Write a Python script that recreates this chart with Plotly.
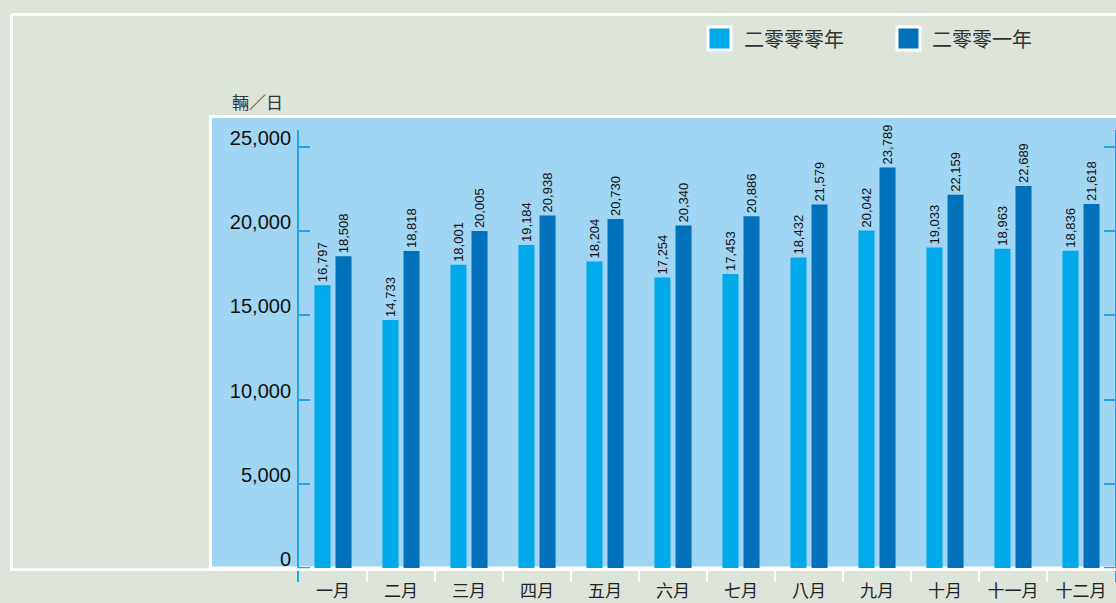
import plotly.graph_objects as go

months = ["一月", "二月", "三月", "四月", "五月", "六月", "七月", "八月", "九月", "十月", "十一月", "十二月"]
series_names = ["二零零零年", "二零零一年"]
values_2000 = [16797, 14733, 18001, 19184, 18204, 17254, 17453, 18432, 20042, 19033, 18963, 18836]
values_2001 = [18508, 18818, 20005, 20938, 20730, 20340, 20886, 21579, 23789, 22159, 22689, 21618]
y_ticks = [0, 5000, 10000, 15000, 20000, 25000]
y_tick_labels = ["0", "5,000", "10,000", "15,000", "20,000", "25,000"]
unit_label = "輛／日"

W, H = 1116, 603
L, R, T, B = 299, 1, 130, 21
PW, PH = W - L - R, H - T - B

def px(x):
    return (x - L) / PW

def py(y):
    return (H - B - y) / PH

LIGHT = "#00a9e9"
DARK = "#0071ba"
BG = "#dde5da"
PLOTBLUE = "#a0d5f3"
AXIS = "#22a6e6"
CJK = "Noto Sans CJK TC"
LAT = "Liberation Sans"

fig = go.Figure()
for name, vals, col in [(series_names[0], values_2000, LIGHT), (series_names[1], values_2001, DARK)]:
    fig.add_trace(go.Bar(
        x=months, y=vals, name=name, marker=dict(color=col, line=dict(width=0)),
        text=[f"{v:,}" for v in vals], textposition="outside", textangle=-90,
        constraintext="none", cliponaxis=False,
        textfont=dict(family=LAT, size=13, color="#111"), showlegend=False,
    ))

shapes = [
    dict(type="rect", xref="paper", yref="paper", x0=px(210.5), x1=px(1125), y0=py(568), y1=py(116.5),
         fillcolor=PLOTBLUE, line=dict(color="white", width=3), layer="below"),
    dict(type="line", xref="paper", yref="paper", x0=px(11.5), x1=px(1120), y0=py(14.5), y1=py(14.5),
         line=dict(color="white", width=3), layer="below"),
    dict(type="line", xref="paper", yref="paper", x0=px(11.5), x1=px(11.5), y0=py(14.5), y1=py(570),
         line=dict(color="white", width=3), layer="below"),
    dict(type="line", xref="paper", yref="paper", x0=px(10), x1=px(1120), y0=py(569.6), y1=py(569.6),
         line=dict(color="white", width=2.6), layer="above"),
]

annotations = [
    dict(xref="paper", yref="paper", x=px(230), y=py(101), text=unit_label, showarrow=False,
         xanchor="left", yanchor="middle", font=dict(family=CJK, size=17, color="#333")),
]
legend_pos = [(708, 742), (897, 930)]
for (sx, tx), name, col in zip(legend_pos, series_names, [LIGHT, DARK]):
    shapes.append(dict(type="rect", xref="paper", yref="paper", x0=px(sx), x1=px(sx + 23),
                       y0=py(50), y1=py(27), fillcolor=col, line=dict(color="white", width=3)))
    annotations.append(dict(xref="paper", yref="paper", x=px(tx), y=py(38.5), text=name, showarrow=False,
                            xanchor="left", yanchor="middle", font=dict(family=CJK, size=20, color="#333")))

fig.update_layout(
    width=W, height=H, autosize=False,
    margin=dict(l=L, r=R, t=T, b=B, pad=0),
    paper_bgcolor=BG, plot_bgcolor="rgba(0,0,0,0)",
    barmode="group", bargap=0.38, bargroupgap=0.24,
    shapes=shapes, annotations=annotations,
    xaxis=dict(type="category", showgrid=False, zeroline=False, showline=False, automargin=False,
               ticks="inside", tickson="boundaries", ticklen=12, tickcolor="white", tickwidth=2,
               tickfont=dict(family=CJK, size=17, color="#222"), range=[-0.5, 11.5],
               ticklabelstandoff=-3),
    yaxis=dict(range=[-831, 26010], showgrid=False, zeroline=False, showline=True, automargin=False,
               linecolor=AXIS, linewidth=2, mirror="ticks",
               ticks="inside", ticklen=11, tickcolor=AXIS, tickwidth=2,
               tickvals=y_ticks, ticktext=y_tick_labels, ticklabelshift=-9, ticklabelstandoff=2,
               tickfont=dict(family=LAT, size=20, color="#111")),
)

fig.write_html("out.html", config={"displayModeBar": False},
               post_script="document.body.style.margin='0';document.body.style.overflow='hidden';")
